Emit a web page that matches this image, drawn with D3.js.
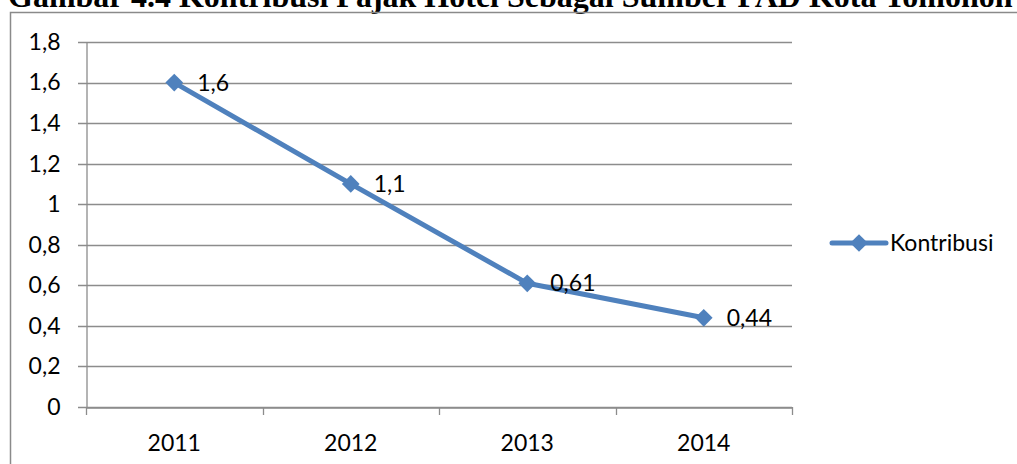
<!DOCTYPE html>
<html>
<head>
<meta charset="utf-8">
<script src="https://cdn.jsdelivr.net/npm/d3@7"></script>
<style>
    body { margin: 0; background: #fff; }
    svg { display: block; }
    .tick-label { font-family: Lato, "Open Sans", sans-serif; font-size: 23px; fill: #000; }
</style>
</head>
<body>
<svg id="chart" width="1017" height="464"></svg>
<script>
// Chart data
const years = ["2011", "2012", "2013", "2014"];
const kontribusi = [1.6, 1.1, 0.61, 0.44];
const yTicks = [0, 0.2, 0.4, 0.6, 0.8, 1, 1.2, 1.4, 1.6, 1.8];
const seriesName = "Kontribusi";
const titleText = "Gambar 4.4 Kontribusi Pajak Hotel Sebagai Sumber PAD Kota Tomohon";

const lineColor = "#4F81BD";
const gridColor = "#8c8c8c";

const svg = d3.select("#chart");

// Title (cut off at the top like the original scan)
const title = svg.append("text")
    .text(titleText)
    .attr("x", 8)
    .attr("y", 7)
    .attr("font-family", "'Liberation Serif', 'Times New Roman', serif")
    .attr("font-weight", "bold")
    .attr("font-size", 24);
// scale font so the title spans the page width
const tw = title.node().getComputedTextLength();
title.attr("font-size", 24 * 1005 / tw);

// Outer chart frame
svg.append("rect")
    .attr("x", 10.5)
    .attr("y", 12.5)
    .attr("width", 1100)
    .attr("height", 600)
    .attr("fill", "none")
    .attr("stroke", "#8a8a8a")
    .attr("stroke-width", 1.5);

const plot = { left: 86, right: 792, top: 42, bottom: 407 };

const xScale = d3.scaleBand()
    .domain(years)
    .range([plot.left, plot.right]);

const yScale = d3.scaleLinear()
    .domain([0, 1.8])
    .range([plot.bottom, plot.top]);

const fmt = d => d3.format("")(d).replace(".", ",");

// Gridlines
svg.append("g")
    .selectAll("line")
    .data(yTicks)
    .join("line")
    .attr("x1", plot.left - 8)
    .attr("x2", plot.right)
    .attr("y1", d => Math.round(yScale(d)) + 0.5)
    .attr("y2", d => Math.round(yScale(d)) + 0.5)
    .attr("stroke", gridColor)
    .attr("stroke-width", 1.3);

// Y axis
const leftAxis = d3.axisLeft(yScale)
    .tickValues(yTicks)
    .tickFormat(fmt)
    .tickSize(0)
    .tickPadding(26);
const yAxis = svg.append("g")
    .attr("transform", `translate(${plot.left + 0.5},0)`)
    .call(leftAxis);
yAxis.select(".domain").attr("stroke", gridColor).attr("stroke-width", 1.3);
yAxis.selectAll("text")
    .attr("class", "tick-label")
    .attr("font-family", null)
    .attr("font-size", null)
    .attr("fill", null);

// X axis
const bottomAxis = d3.axisBottom(xScale)
    .tickSize(0)
    .tickPadding(27);
const xAxis = svg.append("g")
    .attr("transform", `translate(0,${Math.round(plot.bottom) + 0.5})`)
    .call(bottomAxis);
xAxis.select(".domain").attr("stroke", gridColor).attr("stroke-width", 1.3);
xAxis.selectAll("text")
    .attr("class", "tick-label")
    .attr("font-family", null)
    .attr("font-size", null)
    .attr("fill", null);

// Category separator ticks
const sepX = years.map(y => xScale(y)).concat([plot.right]);
svg.append("g")
    .selectAll("line")
    .data(sepX)
    .join("line")
    .attr("x1", d => Math.round(d) + 0.5)
    .attr("x2", d => Math.round(d) + 0.5)
    .attr("y1", plot.bottom)
    .attr("y2", plot.bottom + 8)
    .attr("stroke", gridColor)
    .attr("stroke-width", 1.3);

// Line
const cx = d => xScale(d) + xScale.bandwidth() / 2;
const line = d3.line()
    .x((d, i) => cx(years[i]))
    .y(d => yScale(d));

svg.append("path")
    .datum(kontribusi)
    .attr("d", line)
    .attr("fill", "none")
    .attr("stroke", lineColor)
    .attr("stroke-width", 5)
    .attr("stroke-linejoin", "round");

// Diamond markers
const diamond = d3.symbol().type(d3.symbolDiamond2).size(200);
svg.append("g")
    .selectAll("path")
    .data(kontribusi)
    .join("path")
    .attr("d", diamond)
    .attr("transform", (d, i) => `translate(${cx(years[i])},${yScale(d)})`)
    .attr("fill", lineColor);

// Data labels
svg.append("g")
    .selectAll("text")
    .data(kontribusi)
    .join("text")
    .attr("class", "tick-label")
    .attr("x", (d, i) => cx(years[i]) + 23)
    .attr("y", d => yScale(d))
    .attr("dy", "0.35em")
    .text(fmt);

// Legend
const legend = svg.append("g").attr("transform", "translate(832,243)");
legend.append("line")
    .attr("x1", 0).attr("x2", 54)
    .attr("stroke", lineColor)
    .attr("stroke-width", 5)
    .attr("stroke-linecap", "round");
legend.append("path")
    .attr("d", diamond)
    .attr("transform", "translate(27,0)")
    .attr("fill", lineColor);
legend.append("text")
    .attr("class", "tick-label")
    .attr("x", 58)
    .attr("dy", "0.35em")
    .text(seriesName);
</script>
</body>
</html>
